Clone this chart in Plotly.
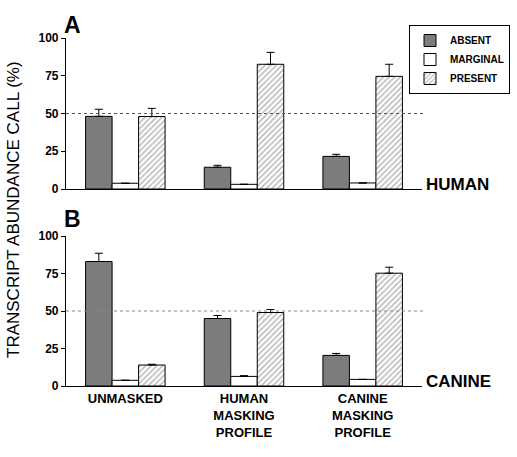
import plotly.graph_objects as go

categories = ["UNMASKED", "HUMAN<br>MASKING<br>PROFILE", "CANINE<br>MASKING<br>PROFILE"]
series_names = ["ABSENT", "MARGINAL", "PRESENT"]

# Panel A: HUMAN
human_absent = [48.1, 14.4, 21.6]
human_absent_err = [4.7, 1.3, 1.4]
human_marginal = [3.8, 3.1, 4.0]
human_marginal_err = [0, 0, 0]
human_present = [48.0, 82.6, 74.6]
human_present_err = [5.4, 7.9, 8.0]

# Panel B: CANINE
canine_absent = [83.0, 45.0, 20.4]
canine_absent_err = [5.5, 2.0, 1.3]
canine_marginal = [3.8, 6.4, 4.4]
canine_marginal_err = [0, 0.5, 0]
canine_present = [14.0, 49.0, 75.2]
canine_present_err = [0.5, 2.0, 4.0]

y_ticks = [0, 25, 50, 75, 100]
reference_level = 50

FONT = "Liberation Sans, Arial, sans-serif"

fig = go.Figure()

styles = {
    "ABSENT": dict(color="#7c7c7c", line=dict(color="black", width=1)),
    "MARGINAL": dict(color="white", line=dict(color="black", width=1)),
    "PRESENT": dict(color="white", line=dict(color="black", width=1),
                    pattern=dict(shape="/", fgcolor="#7a7a7a", bgcolor="white",
                                 size=4, solidity=0.4)),
}

panels = [
    ("x", "y", [human_absent, human_marginal, human_present],
     [human_absent_err, human_marginal_err, human_present_err], True),
    ("x2", "y2", [canine_absent, canine_marginal, canine_present],
     [canine_absent_err, canine_marginal_err, canine_present_err], False),
]

for xa, ya, vals, errs, show in panels:
    for name, v, e in zip(series_names, vals, errs):
        fig.add_trace(go.Bar(
            x=categories, y=v, name=name, xaxis=xa, yaxis=ya,
            marker=styles[name], showlegend=show, legendgroup=name,
            error_y=dict(type="data", array=e, arrayminus=[0] * len(e),
                         symmetric=False, color="black", thickness=1, width=4),
        ))

xdom = [66 / 517, 422 / 517]
ydom_top = [1 - 189 / 457, 1 - 38 / 457]
ydom_bot = [1 - 386 / 457, 1 - 236 / 457]

axis_common = dict(showline=True, linecolor="black", linewidth=1.2,
                   showgrid=False, zeroline=False, automargin=False)
yaxis_common = dict(axis_common, range=[0, 100], tickvals=y_ticks,
                    ticks="outside", ticklen=4, tickcolor="black",
                    tickfont=dict(family=FONT, size=12, color="black", weight="bold"))

fig.update_layout(
    width=517, height=457,
    margin=dict(l=0, r=0, t=0, b=0, autoexpand=False),
    paper_bgcolor="white", plot_bgcolor="white",
    barmode="group", bargap=0.33, bargroupgap=0,
    xaxis=dict(axis_common, domain=xdom, anchor="y", showticklabels=False,
               ticks="", type="category", range=[-0.5, 2.5]),
    yaxis=dict(yaxis_common, domain=ydom_top, anchor="x"),
    xaxis2=dict(axis_common, domain=xdom, anchor="y2", ticks="", type="category",
                range=[-0.5, 2.5],
                tickfont=dict(family=FONT, size=13, color="black", weight="bold")),
    yaxis2=dict(yaxis_common, domain=ydom_bot, anchor="x2"),
    legend=dict(x=510 / 517, y=1 - 25 / 457, xanchor="right", yanchor="top",
                bordercolor="black", borderwidth=1, bgcolor="white",
                font=dict(family=FONT, size=10, color="black", weight="bold"),
                tracegroupgap=0, itemwidth=30),
    font=dict(family=FONT, color="black"),
)

fig.add_shape(type="line", xref="x domain", yref="y", x0=0, x1=1.003,
              y0=reference_level, y1=reference_level,
              line=dict(color="#555555", width=1, dash="dot"))
fig.add_shape(type="line", xref="x2 domain", yref="y2", x0=0, x1=1.003,
              y0=reference_level, y1=reference_level,
              line=dict(color="#888888", width=1, dash="dot"))

annots = [
    dict(text="A", x=62 / 517, y=1 - 25 / 457, size=23),
    dict(text="B", x=62 / 517, y=1 - 219 / 457, size=23),
    dict(text="HUMAN", x=424 / 517, y=1 - 184 / 457, size=17),
    dict(text="CANINE", x=424 / 517, y=1 - 381 / 457, size=17),
]
for a in annots:
    fig.add_annotation(text=a["text"], x=a["x"], y=a["y"], xref="paper", yref="paper",
                       xanchor="left", yanchor="middle", showarrow=False,
                       font=dict(family=FONT, size=a["size"], color="black", weight="bold"))

fig.add_annotation(text="TRANSCRIPT ABUNDANCE CALL (%)", x=14 / 517, y=1 - 210 / 457,
                   xref="paper", yref="paper", xanchor="center", yanchor="middle",
                   textangle=-90, showarrow=False,
                   font=dict(family=FONT, size=17, color="black"))

fig.write_html("out.html", config={"displayModeBar": False},
               post_script="document.body.style.margin='0';")
